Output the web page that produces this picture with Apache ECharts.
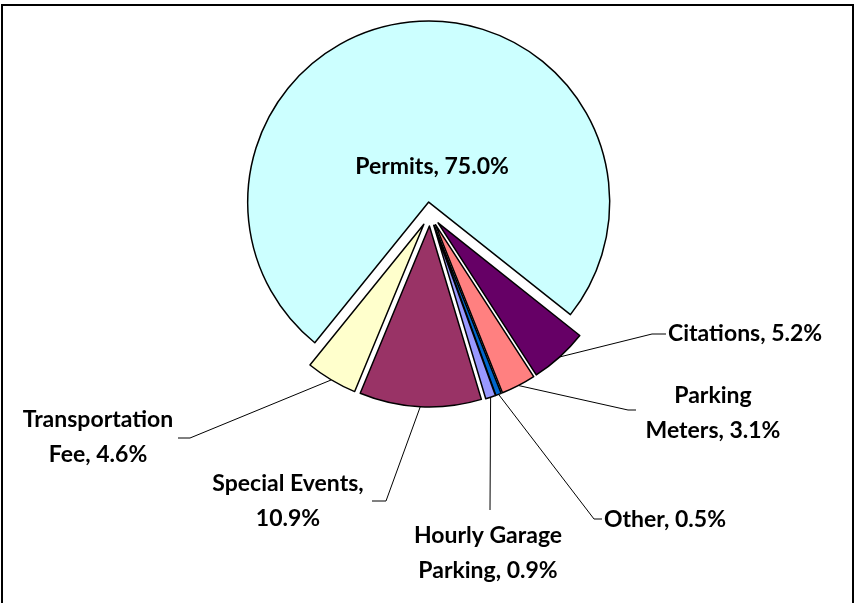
<!DOCTYPE html>
<html>
<head>
<meta charset="utf-8">
<script src="https://cdn.jsdelivr.net/npm/echarts@6/dist/echarts.min.js"></script>
<style>
  html, body { margin: 0; padding: 0; background: #fff; }
  #chart { width: 855px; height: 603px; }
</style>
</head>
<body>
<div id="chart"></div>
<script>
// ---- data ----
const categories = ['Permits', 'Citations', 'Parking Meters', 'Other', 'Hourly Garage Parking', 'Special Events', 'Transportation Fee'];
const shares = [75.0, 5.2, 3.1, 0.5, 0.9, 10.9, 4.6];
const labelTexts = ['Permits, 75.0%', 'Citations, 5.2%', 'Parking\nMeters, 3.1%', 'Other, 0.5%', 'Hourly Garage\nParking, 0.9%', 'Special Events,\n10.9%', 'Transportation\nFee, 4.6%'];

// ---- styles / layout ----
const colors = ['#CCFFFF', '#660066', '#FF8080', '#0066CC', '#9999FF', '#993366', '#FFFFCC'];
const baseCenter = [430, 214];
const pieRadius = 181;
const startAngle = 231;
const explode = 12;
// label anchor, alignment, leader elbow and end
const labelLayouts = [
  { x: 432, y: 167, align: 'center', va: 'middle', line: null },
  { x: 668, y: 334, align: 'left', va: 'middle', line: [[652, 334], [666, 334]] },
  { x: 713, y: 413, align: 'center', va: 'middle', line: [[628, 410], [636, 410]] },
  { x: 604, y: 520, align: 'left', va: 'middle', line: [[594, 519], [602, 519]] },
  { x: 488, y: 553, align: 'center', va: 'middle', line: [[490, 510], [490, 510]] },
  { x: 288, y: 501, align: 'center', va: 'middle', line: [[386, 501], [372, 501]] },
  { x: 98, y: 437, align: 'center', va: 'middle', line: [[190, 438], [178, 438]] }
];

const total = shares.reduce((a, b) => a + b, 0);
const chart = echarts.init(document.getElementById('chart'));

let cum = 0;
const series = categories.map((cat, i) => {
  const a0 = startAngle - cum / total * 360;
  const mid = (a0 - shares[i] / total * 180) * Math.PI / 180;
  cum += shares[i];
  const cx = baseCenter[0] + explode * Math.cos(mid);
  const cy = baseCenter[1] - explode * Math.sin(mid);
  return {
    type: 'pie',
    name: cat,
    center: [cx, cy],
    radius: pieRadius,
    startAngle: startAngle,
    clockwise: true,
    silent: true,
    avoidLabelOverlap: false,
    emphasis: { disabled: true },
    label: {
      show: true,
      position: i === 0 ? 'inside' : 'outside',
      fontFamily: 'Lato',
      fontWeight: 'bold',
      fontSize: 23,
      lineHeight: 35,
      color: '#000',
      align: 'center',
      formatter: labelTexts[i]
    },
    labelLine: {
      show: i !== 0,
      lineStyle: { color: '#000', width: 1 },
      length: 20,
      length2: 10
    },
    labelLayout: function (params) {
      if (params.dataIndex !== i) return {};
      const L = labelLayouts[i];
      const out = { x: L.x, y: L.y, align: L.align, verticalAlign: L.va };
      if (L.line && params.labelLinePoints) {
        out.labelLinePoints = [params.labelLinePoints[0], L.line[0], L.line[1]];
      }
      return out;
    },
    data: categories.map((c, j) => j === i ? {
      name: c,
      value: shares[j],
      itemStyle: { color: colors[j], borderColor: '#000', borderWidth: 1.5 }
    } : {
      name: c,
      value: shares[j],
      itemStyle: { color: 'rgba(0,0,0,0)', borderColor: 'rgba(0,0,0,0)', borderWidth: 0 },
      label: { show: false },
      labelLine: { show: false }
    })
  };
});

chart.setOption({
  animation: false,
  graphic: [{
    type: 'rect',
    shape: { x: 2, y: 5, width: 851, height: 600 },
    style: { fill: 'none', stroke: '#000', lineWidth: 2 },
    silent: true,
    z: 10
  }],
  series: series
});
</script>
</body>
</html>
